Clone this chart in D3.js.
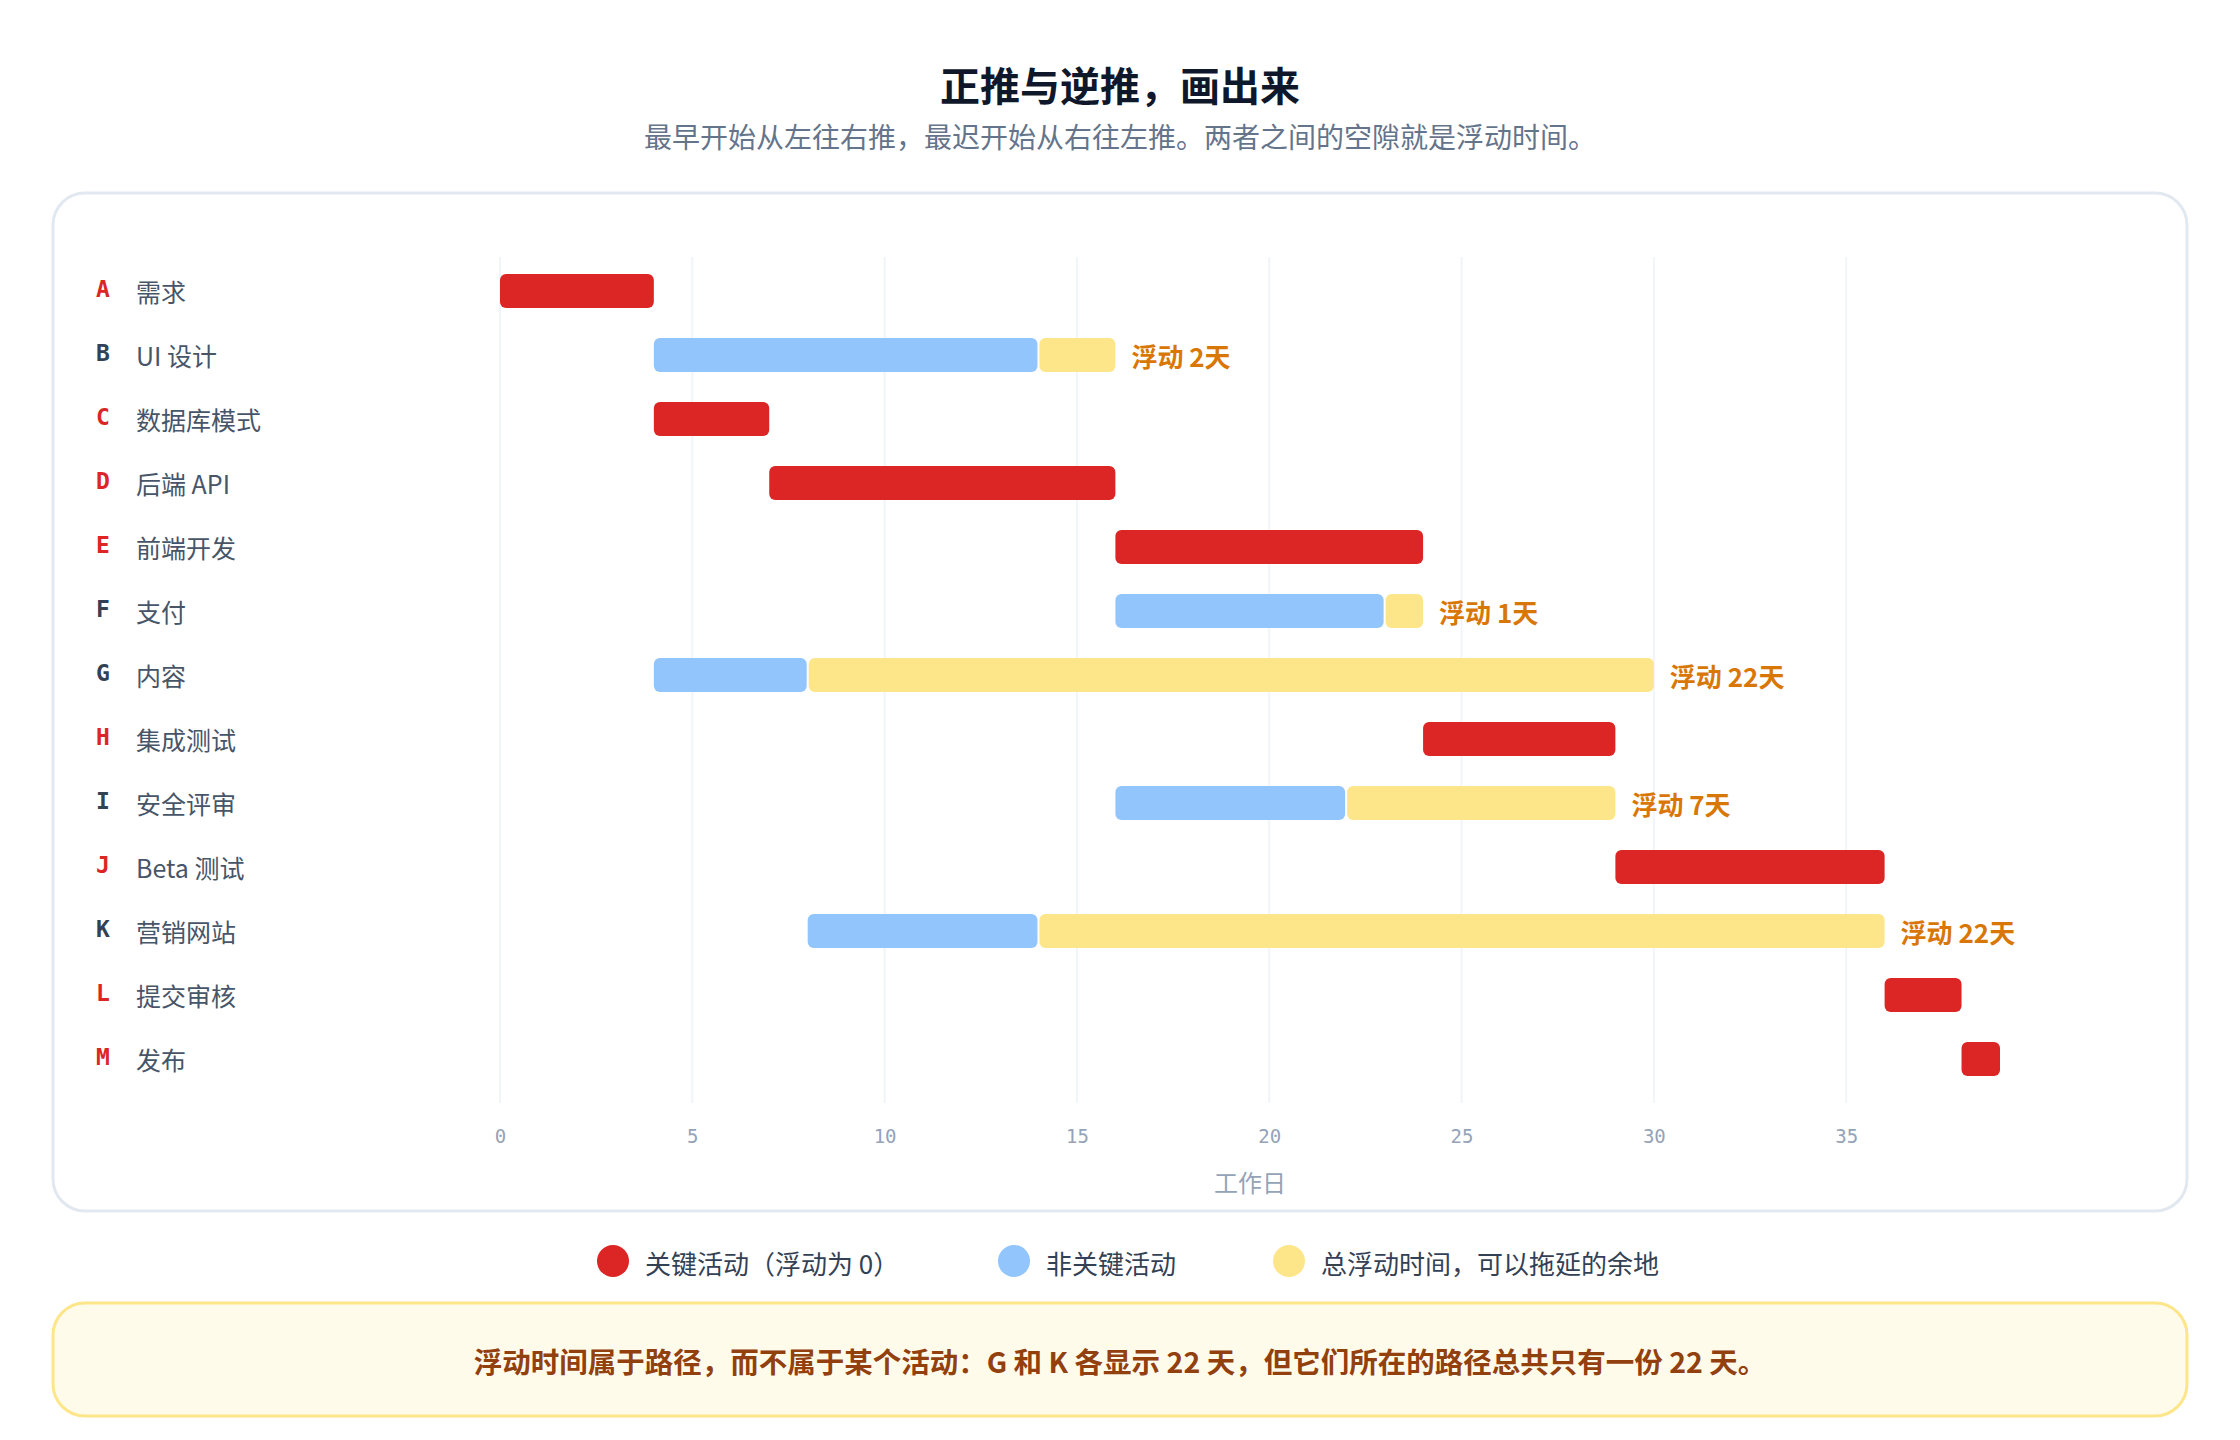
<!DOCTYPE html>
<html><head><meta charset="utf-8">
<script src="https://cdn.jsdelivr.net/npm/d3@7/dist/d3.min.js"></script>
<style>
html,body{margin:0;padding:0;background:#fff;}
svg{display:block;font-family:"Noto Sans CJK SC","Noto Sans",sans-serif;}
</style></head>
<body>
<svg id="chart" width="2240" height="1440"></svg>
<script>
const ids = ["A","B","C","D","E","F","G","H","I","J","K","L","M"];
const names = ["需求","UI 设计","数据库模式","后端 API","前端开发","支付","内容","集成测试","安全评审","Beta 测试","营销网站","提交审核","发布"];
const starts = [0,4,4,7,16,16,4,24,16,29,8,36,38];
const durations = [4,10,3,9,8,7,4,5,6,7,6,2,1];
const floats = [0,2,0,0,0,1,22,0,7,0,22,0,0];
const tickValues = [0,5,10,15,20,25,30,35];
const legendLabels = ["关键活动（浮动为 0）","非关键活动","总浮动时间，可以拖延的余地"];

const C_RED="#dc2626", C_BLUE="#93c5fd", C_YEL="#fde68a";
const svg = d3.select("#chart");

// title
svg.append("text").attr("x",1120).attr("y",84).attr("text-anchor","middle")
  .attr("dominant-baseline","central").attr("font-size",40).attr("font-weight",700)
  .attr("fill","#0f172a").text("正推与逆推，画出来");
svg.append("text").attr("x",1120).attr("y",136).attr("text-anchor","middle")
  .attr("dominant-baseline","central").attr("font-size",28)
  .attr("fill","#64748b").text("最早开始从左往右推，最迟开始从右往左推。两者之间的空隙就是浮动时间。");

// card
svg.append("rect").attr("x",53).attr("y",193).attr("width",2134).attr("height",1018)
  .attr("rx",32).attr("fill","#fff").attr("stroke","#e2e8f0").attr("stroke-width",3);

const x = d3.scaleLinear().domain([0,39]).range([500,2000]);
const y = d3.scaleBand().domain(ids).range([259,1091]).paddingInner(0.47).paddingOuter(0.235);

// grid
svg.append("g").selectAll("line").data(tickValues).join("line")
  .attr("x1",d=>x(d)).attr("x2",d=>x(d)).attr("y1",257).attr("y2",1103)
  .attr("stroke","#f1f5f9").attr("stroke-width",2);

// axis
const ax = svg.append("g").attr("transform","translate(0,1118)")
  .call(d3.axisBottom(x).tickValues(tickValues).tickSize(0).tickPadding(0));
ax.select(".domain").remove();
ax.selectAll("text").attr("font-family","'DejaVu Sans Mono',monospace").attr("font-size",19)
  .attr("fill","#94a3b8").attr("dy","0").attr("y",18).attr("dominant-baseline","central");
svg.append("text").attr("x",x(19.5)).attr("y",1181).attr("text-anchor","middle")
  .attr("dominant-baseline","central").attr("font-size",24).attr("fill","#94a3b8").text("工作日");

const rows = ids.map((id,i)=>({id,name:names[i],s:starts[i],d:durations[i],f:floats[i]}));

// row labels
const lab = svg.append("g");
lab.selectAll("text.id").data(rows).join("text").attr("class","id")
  .attr("x",96).attr("y",d=>y(d.id)+y.bandwidth()/2-2).attr("dominant-baseline","central")
  .attr("font-family","'DejaVu Sans Mono',monospace").attr("font-weight",700).attr("font-size",23)
  .attr("fill",d=>d.f===0?C_RED:"#334155").text(d=>d.id);
lab.selectAll("text.nm").data(rows).join("text").attr("class","nm")
  .attr("x",136).attr("y",d=>y(d.id)+y.bandwidth()/2).attr("dominant-baseline","central")
  .attr("font-size",25).attr("fill","#475569").text(d=>d.name);

// bars
const bars = svg.append("g");
bars.selectAll("rect.act").data(rows).join("rect").attr("class","act")
  .attr("x",d=>x(d.s)).attr("y",d=>y(d.id)).attr("height",y.bandwidth())
  .attr("width",d=>x(d.s+d.d)-x(d.s)-(d.f>0?1:0)).attr("rx",6)
  .attr("fill",d=>d.f===0?C_RED:C_BLUE);
const fl = rows.filter(d=>d.f>0);
bars.selectAll("rect.fl").data(fl).join("rect").attr("class","fl")
  .attr("x",d=>x(d.s+d.d)+1).attr("y",d=>y(d.id)).attr("height",y.bandwidth())
  .attr("width",d=>x(d.s+d.d+d.f)-x(d.s+d.d)-1).attr("rx",6).attr("fill",C_YEL);
bars.selectAll("text.fl").data(fl).join("text").attr("class","fl")
  .attr("x",d=>x(d.s+d.d+d.f)+16).attr("y",d=>y(d.id)+y.bandwidth()/2)
  .attr("dominant-baseline","central").attr("font-size",26).attr("font-weight",700)
  .attr("fill","#d97706").text(d=>"浮动 "+d.f+"天");

// legend
const legX = [613,1014,1289];
const legC = [C_RED,C_BLUE,C_YEL];
const lg = svg.append("g");
legendLabels.forEach((t,i)=>{
  lg.append("circle").attr("cx",legX[i]).attr("cy",1261).attr("r",16).attr("fill",legC[i]);
  lg.append("text").attr("x",legX[i]+32).attr("y",1262).attr("dominant-baseline","central")
    .attr("font-size",26).attr("fill","#334155").text(t);
});

// note
svg.append("rect").attr("x",53).attr("y",1303).attr("width",2134).attr("height",113)
  .attr("rx",32).attr("fill","#fffbeb").attr("stroke","#fde68a").attr("stroke-width",3);
svg.append("text").attr("x",1120).attr("y",1360).attr("text-anchor","middle")
  .attr("dominant-baseline","central").attr("font-size",28.5).attr("font-weight",700)
  .attr("fill","#92400e").text("浮动时间属于路径，而不属于某个活动：G 和 K 各显示 22 天，但它们所在的路径总共只有一份 22 天。");
</script>
</body></html>
